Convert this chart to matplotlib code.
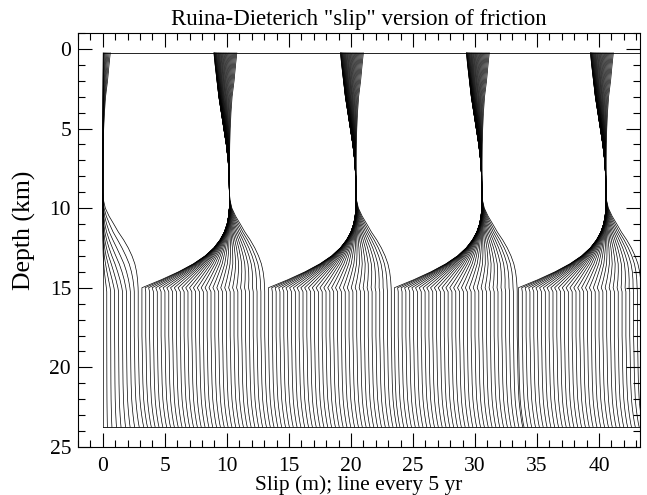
import numpy as np
import matplotlib
matplotlib.use("Agg")
import matplotlib.pyplot as plt
from matplotlib.ticker import MultipleLocator

plt.rcParams['font.family'] = ['Liberation Serif', 'DejaVu Serif']

# depth nodes (km) of the plotted profiles
depth = [0.25, 1, 2, 3, 4, 5, 6, 7, 8, 9, 9.5, 10, 10.5, 11, 11.5, 12, 12.5,
         13, 13.5, 14, 14.5, 15, 15.25, 16, 17, 18, 19, 20, 21, 22, 22.5, 23,
         23.5, 23.75]

# slip just after an event, relative to slip of the locked zone (m)
post_event = [-1.25, -1.15, -1.0, -0.85, -0.65, -0.45, -0.25, -0.1, -0.02, 0.0,
              0.0, 0.0, -0.06, -0.18, -0.4, -0.75, -1.25, -1.95, -2.9, -4.1,
              -5.5, -7.05, -7.05, -7.05, -7.05, -7.05, -7.02, -7.0, -6.97,
              -6.91, -6.85, -6.77, -6.67, -6.6]

# slip just before the next event, relative to slip of the locked zone (m)
pre_event = [0.6, 0.5, 0.38, 0.22, 0.13, 0.07, 0.03, 0.01, 0.0, 0.0, 0.05, 0.2,
             0.5, 0.88, 1.25, 1.68, 2.05, 2.35, 2.58, 2.72, 2.8, 2.84, 2.85,
             2.85, 2.85, 2.85, 2.88, 2.9, 2.93, 2.99, 3.05, 3.13, 3.23, 3.3]

# how late in the cycle each depth catches up (1 = steady creep)
lag = [1.4, 1.6, 1.9, 2.2, 2.5, 2.8, 3.0, 3.0, 3.0, 6.0, 7.0, 6.0, 5.0, 4.2,
       3.5, 2.9, 2.4, 2.0, 1.65, 1.4, 1.2, 1.05, 1.0, 1.0, 1.0, 1.0, 1.0, 1.0,
       1.0, 1.0, 1.0, 1.0, 1.0, 1.0]

# slip of the locked zone (7-9 km) in each interseismic period (m)
locked_slip = [0.0, 10.2, 20.4, 30.55, 40.55, 50.7]
# profiles (one every 5 yr) in each period
n_lines = [10, 33, 33, 33, 33]

depth = np.array(depth)
post_event = np.array(post_event)
pre_event = np.array(pre_event)
lag = np.array(lag)

profiles = []
for k, n in enumerate(n_lines):
    base = locked_slip[k]
    start = np.zeros_like(depth) if k == 0 else base + post_event
    end = base + pre_event
    for j in range(n):
        p = j / (n - 1)
        profiles.append(start + (end - start) * p ** lag)
# first profile after the last event
profiles.append(locked_slip[-1] + post_event)

fig = plt.figure(figsize=(6.47, 4.95), dpi=100)
ax = fig.add_axes([0.1206, 0.0970, 0.8686, 0.8364])

for s in profiles:
    ax.plot(s, depth, color='black', lw=0.5)
ax.plot([s[0] for s in profiles], np.full(len(profiles), depth[0]), color='black', lw=0.6)
ax.plot([s[-1] for s in profiles], np.full(len(profiles), depth[-1]), color='black', lw=0.6)

ax.set_xlim(-2, 43.3)
ax.set_ylim(25, -1)
ax.xaxis.set_minor_locator(MultipleLocator(1))
ax.yaxis.set_major_locator(MultipleLocator(5))
ax.yaxis.set_minor_locator(MultipleLocator(1))
ax.set_xticks(range(0, 41, 5))
ax.tick_params(which='both', direction='in', top=True, right=True, width=0.8)
ax.tick_params(which='major', length=10, labelsize=15.5)
ax.tick_params(which='minor', length=5)
ax.tick_params(axis='x', pad=7)
ax.tick_params(axis='y', pad=5)
for sp in ax.spines.values():
    sp.set_linewidth(0.8)

ax.set_title('Ruina-Dieterich "slip" version of friction', fontsize=16.5, pad=6)
ax.set_xlabel('Slip (m); line every 5 yr', fontsize=15.5, labelpad=0)
ax.set_ylabel('Depth (km)', fontsize=18.5)
ax.yaxis.set_label_coords(-0.075, 0.524)

fig.savefig('out.png', dpi=100)
